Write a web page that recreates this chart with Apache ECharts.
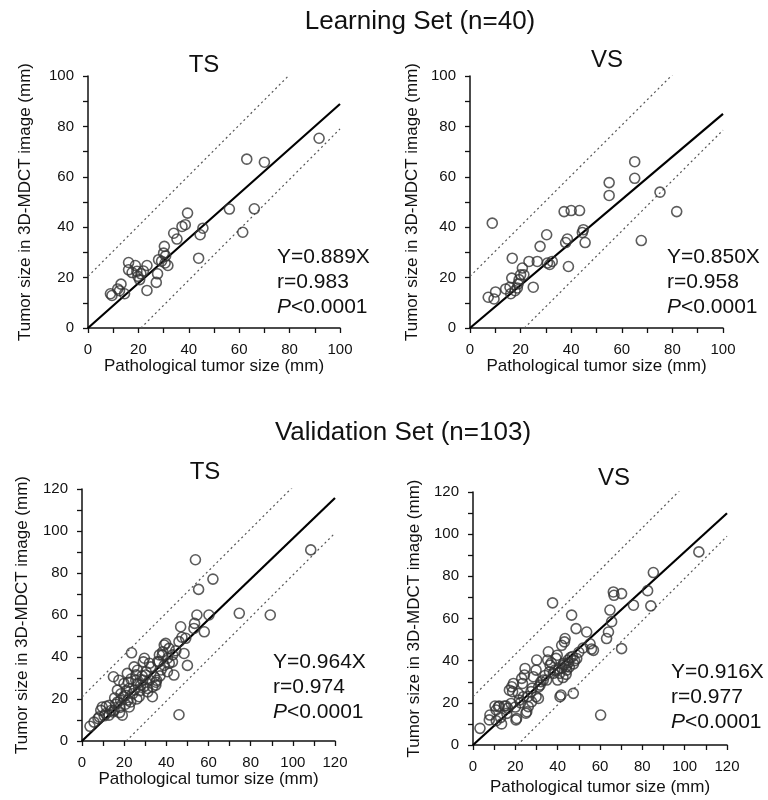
<!DOCTYPE html>
<html>
<head>
<meta charset="utf-8">
<script src="https://cdn.jsdelivr.net/npm/echarts@6/dist/echarts.min.js"></script>
<style>
  html, body { margin: 0; padding: 0; background: #fff; }
  #chart { width: 768px; height: 800px; }
</style>
</head>
<body>
<div id="chart"></div>
<script>
// Pathological size (x) vs size in 3D-MDCT image (y), mm
const learningTS = [
    [8.9, 13.6], [9.5, 12.9], [11.8, 15.5], [12.5, 14.8], [13.1, 17.4], [14.5, 13.6],
    [16.1, 26], [16.1, 23.1], [17.5, 22], [18.8, 24.8], [19.4, 22.5], [19.8, 20.5],
    [20.5, 19.2], [21, 21.5], [22, 22.6], [23.4, 24.8], [23.4, 14.9], [27.1, 18.1],
    [27.6, 21.5], [28, 27.1], [29.2, 26.5], [30, 29.7], [30.3, 32.4], [30.6, 25.8],
    [30.8, 28.6], [31.7, 24.8], [34, 37.6], [35.3, 35.3], [37.3, 40.3], [38.6, 41],
    [39.5, 45.6], [43.9, 27.7], [44.5, 37], [45.6, 39.6], [56.1, 47.2], [61.4, 38],
    [63, 67], [66, 47.3], [70, 65.8], [91.7, 75.3]
];
const learningVS = [
    [7.2, 12.2], [8.8, 41.6], [9.5, 11.5], [10.1, 14.3], [14.1, 15.5], [15.8, 16.2],
    [16.1, 13.6], [16.5, 19.8], [16.7, 27.7], [17.8, 14.8], [18.7, 15.9], [19, 17.5],
    [19.4, 19.2], [20, 21.1], [20.7, 23.8], [21.3, 21.1], [23.3, 26.4], [25, 16.2],
    [26.6, 26.4], [27.7, 32.4], [30.3, 37], [30.6, 25.8], [31.5, 25.2], [32.5, 26.4],
    [37.2, 46.2], [37.8, 33.9], [38.5, 35.3], [38.9, 24.4], [40, 46.6], [43.3, 46.6],
    [44.4, 37.9], [44.8, 39], [45.5, 33.9], [55, 57.7], [55, 52.6], [65.1, 66],
    [65.1, 59.4], [67.7, 34.7], [75.1, 53.9], [81.7, 46.2]
];
const validationTS = [
    [3.8, 7], [5.7, 9], [7.6, 10.7], [8.2, 11.5], [8.9, 14.6], [9.6, 16.2], [10.5, 12],
    [11.2, 13], [11.5, 16.5], [12.8, 12.3], [13, 17], [13.8, 14.5], [14.6, 13.8], [14.9, 30.6],
    [15.2, 14.6], [15.5, 20.5], [16, 17.5], [16.8, 24.2], [16.9, 18.6], [17.5, 28.9], [17.8, 13.5],
    [18, 16], [18.3, 19.4], [18.5, 22.5], [19.1, 12.3], [19.6, 21], [19.9, 27.4], [20.6, 17.5],
    [20.7, 21.8], [21, 24], [21.5, 32.2], [21.8, 19.5], [22, 28], [22.3, 25], [22.4, 16.2],
    [23.1, 18.6], [23.2, 29.5], [23.5, 42], [24, 22.5], [24.7, 35.3], [24.8, 24.2], [25.5, 28.9],
    [25.6, 31.5], [26, 20], [26.3, 33.7], [26.4, 27.4], [27.1, 21.1], [27.5, 24], [27.8, 26.6],
    [28.5, 31], [28.8, 29], [29.1, 37.7], [29.5, 26], [29.6, 39.4], [30.2, 31.4], [30.4, 33],
    [31, 25], [31.2, 23.4], [32, 37], [32, 29], [32.6, 35.3], [33.4, 21.1], [33.5, 25.8],
    [34.3, 30.6], [35, 26.6], [35.1, 28], [35.4, 28.9], [35.9, 37.8], [36.5, 37.7], [36.7, 41],
    [37, 31], [37.5, 33.8], [38.1, 40.9], [38.3, 42.5], [39, 36], [39, 45.7], [39.7, 46.5],
    [40.5, 33], [40.6, 39.4], [41.3, 44.1], [41.4, 37], [42.9, 37.7], [43, 41], [43.6, 31.4],
    [44.5, 43], [46, 47.3], [46, 12.5], [46.8, 54.4], [47.4, 49.4], [48.4, 41.7], [49.2, 48.9],
    [50, 36], [53.1, 53.6], [53.4, 56], [54.5, 60], [53.8, 86.3], [55.3, 72.2], [58, 52],
    [60.2, 60], [62.1, 77.1], [74.6, 60.8], [89.3, 60], [108.5, 91]
];
const validationVS = [
    [3.3, 7.9], [7.7, 11.9], [8, 14.2], [10.4, 18.5], [10.9, 16.6], [11, 11.5], [12, 18.2],
    [12.4, 18.5], [13, 13], [13.5, 10], [14.8, 18.5], [15.6, 18.5], [16, 15], [16.4, 17.4],
    [17.2, 26], [18, 19.7], [18.3, 27.6], [18.7, 25.3], [19.1, 29.2], [20, 18], [20.3, 11.9],
    [20.6, 12.6], [21.4, 24.5], [21.9, 21.3], [22.5, 20], [23, 31.6], [23.4, 29.2], [23.8, 22.9],
    [24.3, 33.2], [24.6, 36.3], [25, 15.1], [25.4, 15.8], [26, 23], [26.1, 18.2], [27.4, 25.3],
    [27.7, 20.5], [28, 27], [28.5, 32.4], [29.8, 22.9], [29.8, 35.5], [30.1, 40.3], [30.9, 22.1],
    [31, 27.5], [31.7, 28.4], [32.1, 30], [33.2, 30.8], [34, 33], [34.8, 30.8], [35.3, 40.3],
    [35.6, 44.2], [36.1, 34.7], [36.4, 37.9], [37, 39], [37.6, 67.4], [38, 34], [38.7, 35.5],
    [39.2, 41.1], [39.8, 42.6], [40, 30.8], [40.5, 36], [41, 34], [41.1, 22.9], [41.6, 23.7],
    [41.9, 47.3], [42, 36.5], [42.5, 32], [42.7, 38.7], [43, 38], [43.2, 48.9], [43.5, 50.5],
    [44, 37.1], [44, 33.5], [44.3, 35.5], [44.9, 40.3], [45, 39], [45.5, 37], [46, 41.5],
    [46.6, 61.6], [47, 42], [47.4, 24.5], [47.5, 38.5], [48, 40], [48.7, 55.2], [49, 41],
    [50, 44], [52, 46], [53.7, 53.6], [55.3, 48], [56, 45.5], [56.9, 44.9], [60.3, 14.2],
    [63.1, 50.5], [64, 53.6], [64.7, 64], [65.5, 58.5], [66.3, 72.6], [66.6, 71], [70.2, 71.8],
    [70.2, 45.7], [75.8, 66.3], [82.5, 73.2], [84, 66], [85.2, 81.8], [106.7, 91.6]
];

const panelData = [learningTS, learningVS, validationTS, validationVS];
const panelNames = ["TS", "VS", "TS", "VS"];
const slopes = [0.889, 0.850, 0.964, 0.916];
const rValues = ["0.983", "0.958", "0.974", "0.977"];
const pText = "<0.0001";
const upperOffset = [20.5, 20.5, 21, 23];
const lowerOffset = [21, 21.5, 21, 21];
const axisMax = [100, 100, 120, 120];
const labelStep = 20;
const setTitles = ["Learning Set (n=40)", "Validation Set (n=103)"];

const FONT = "'Liberation Sans', Arial, Helvetica, sans-serif";
const INK = "#111";

const grids = [
    { left: 88, top: 76, width: 252, height: 252 },
    { left: 470, top: 76, width: 253, height: 252 },
    { left: 82, top: 489, width: 253, height: 252 },
    { left: 473, top: 492, width: 254, height: 253 }
];
// where the free text sits
const headPos = [[204, 65], [607, 60], [205, 472], [614, 478]];
const statPos = [[277, 245], [667, 245], [273, 650], [671, 660]];
const setPos = [[420, 22], [403, 433]];
const yNameGap = [54, 49, 51, 50];
const xNameGap = [29, 29, 28, 34];

const chart = echarts.init(document.getElementById("chart"), null, { renderer: "canvas" });

const titles = [];
setTitles.forEach((t, i) => {
    titles.push({
        text: t, left: setPos[i][0], top: setPos[i][1], textAlign: "center", textVerticalAlign: "middle",
        padding: 0, textStyle: { fontFamily: FONT, fontSize: 26, fontWeight: "normal", color: INK }
    });
});
panelNames.forEach((t, i) => {
    titles.push({
        text: t, left: headPos[i][0], top: headPos[i][1], textAlign: "center", textVerticalAlign: "middle",
        padding: 0, textStyle: { fontFamily: FONT, fontSize: 24, fontWeight: "normal", color: INK }
    });
    titles.push({
        text: "Y=" + slopes[i].toFixed(3) + "X\nr=" + rValues[i] + "\n{i|P}" + pText,
        left: statPos[i][0], top: statPos[i][1], padding: 0,
        textStyle: {
            fontFamily: FONT, fontSize: 21, lineHeight: 25, fontWeight: "normal", color: INK,
            rich: { i: { fontFamily: FONT, fontSize: 21, lineHeight: 25, fontStyle: "italic", color: INK } }
        }
    });
});

const axisCommon = (max, idx) => ({
    type: "value", gridIndex: idx, min: 0, max: max, interval: labelStep,
    axisLine: { show: true, onZero: false, lineStyle: { color: INK, width: 1.5 } },
    axisTick: { show: true, inside: false, length: 5, lineStyle: { color: INK, width: 1.3 } },
    minorTick: { show: true, splitNumber: 2, length: 5, lineStyle: { color: INK, width: 1.3 } },
    splitLine: { show: false },
    minorSplitLine: { show: false },
    axisLabel: { fontFamily: FONT, fontSize: 15, color: INK, margin: 14 },
    nameLocation: "middle",
    nameTextStyle: { fontFamily: FONT, fontSize: 17, color: INK }
});

const xAxes = axisMax.map((m, i) => Object.assign(axisCommon(m, i), {
    name: "Pathological tumor size (mm)", nameGap: xNameGap[i]
}));
const yAxes = axisMax.map((m, i) => Object.assign(axisCommon(m, i), {
    name: "Tumor size in 3D-MDCT image (mm)", nameGap: yNameGap[i]
}));

const series = [];
panelData.forEach((pts, i) => {
    const m = axisMax[i];
    series.push({
        type: "scatter", xAxisIndex: i, yAxisIndex: i, data: pts,
        symbol: "circle", symbolSize: 10,
        itemStyle: { color: "rgba(0,0,0,0)", borderColor: "#333", borderWidth: 1.6 },
        z: 3
    });
    series.push({
        type: "line", xAxisIndex: i, yAxisIndex: i, data: [[0, 0], [m, slopes[i] * m]],
        symbol: "none", clip: true, lineStyle: { color: "#000", width: 2.2 }, z: 2
    });
    series.push({
        type: "line", xAxisIndex: i, yAxisIndex: i, data: [[0, upperOffset[i]], [m, m + upperOffset[i]]],
        symbol: "none", clip: true, lineStyle: { color: "#555", width: 1.2, type: [2, 3] }, z: 1
    });
    series.push({
        type: "line", xAxisIndex: i, yAxisIndex: i, data: [[lowerOffset[i], 0], [m, m - lowerOffset[i]]],
        symbol: "none", clip: true, lineStyle: { color: "#555", width: 1.2, type: [2, 3] }, z: 1
    });
});

chart.setOption({
    backgroundColor: "#fff",
    animation: false,
    title: titles,
    grid: grids.map(g => Object.assign({ containLabel: false, outerBoundsMode: "none" }, g)),
    xAxis: xAxes,
    yAxis: yAxes,
    series: series
});
</script>
</body>
</html>
